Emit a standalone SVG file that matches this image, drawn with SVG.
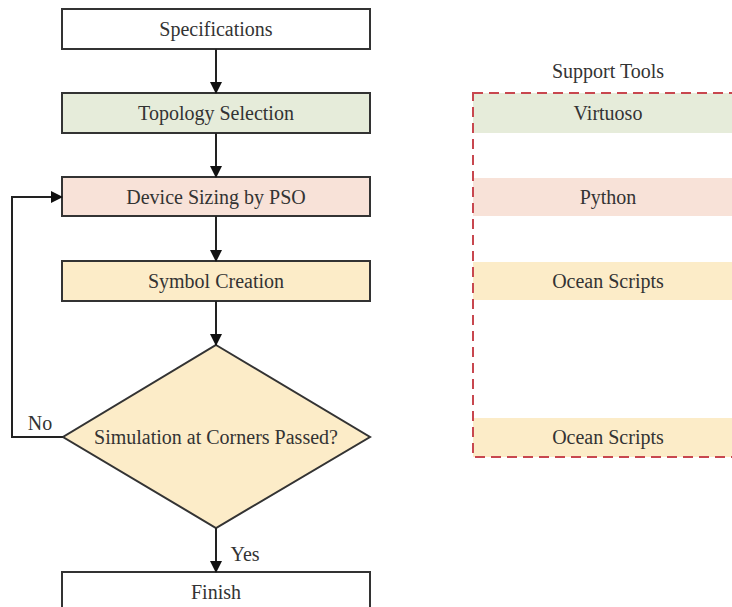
<svg xmlns="http://www.w3.org/2000/svg" width="732" height="607" viewBox="0 0 732 607">
<style>
text{font-family:"Liberation Serif","Times New Roman",serif;font-size:20px;fill:#333;text-anchor:middle;dominant-baseline:central}
.box{stroke:#333;stroke-width:2}
.conn{stroke:#222;stroke-width:2;fill:none}
</style>
<defs>
<marker id="ah" markerWidth="12" markerHeight="12" refX="11" refY="6" orient="auto" markerUnits="userSpaceOnUse">
<path d="M0,0 L12,6 L0,12 Z" fill="#111"/>
</marker>
</defs>
<rect width="732" height="607" fill="#fff"/>
<g id="spec"><rect class="box" x="62" y="9" width="308" height="40" fill="#fff"/><text x="216" y="29">Specifications</text></g>
<g id="topo"><rect class="box" x="62" y="93" width="308" height="40" fill="#e6ecda"/><text x="216" y="113">Topology Selection</text></g>
<g id="sizing"><rect class="box" x="62" y="177" width="308" height="39" fill="#f8e2d8"/><text x="216" y="197">Device Sizing by PSO</text></g>
<g id="symbol"><rect class="box" x="62" y="261" width="308" height="40" fill="#fcecc8"/><text x="216" y="281">Symbol Creation</text></g>
<g id="sim"><polygon class="box" points="216,345 370,437 216,528 63,437" fill="#fcecc8"/><text x="216" y="437">Simulation at Corners Passed?</text></g>
<g id="finish"><rect class="box" x="62" y="572" width="308" height="50" fill="#fff"/><text x="216" y="592">Finish</text></g>
<g id="connectors">
<line class="conn" x1="216" y1="49" x2="216" y2="93" marker-end="url(#ah)"/>
<line class="conn" x1="216" y1="133" x2="216" y2="177" marker-end="url(#ah)"/>
<line class="conn" x1="216" y1="216" x2="216" y2="261" marker-end="url(#ah)"/>
<line class="conn" x1="216" y1="301" x2="216" y2="345" marker-end="url(#ah)"/>
<line class="conn" x1="216" y1="528" x2="216" y2="572" marker-end="url(#ah)"/>
<polyline class="conn" points="63,437 12,437 12,197 62,197" marker-end="url(#ah)"/>
<text x="40" y="423">No</text>
<text x="245" y="554">Yes</text>
</g>
<g id="support">
<text x="608" y="71">Support Tools</text>
<rect x="473" y="93" width="272" height="40" fill="#e6ecda"/>
<text x="608" y="113">Virtuoso</text>
<rect x="473" y="178" width="272" height="38" fill="#f8e2d8"/>
<text x="608" y="197">Python</text>
<rect x="473" y="262" width="272" height="38" fill="#fcecc8"/>
<text x="608" y="281">Ocean Scripts</text>
<rect x="473" y="418" width="272" height="39" fill="#fcecc8"/>
<text x="608" y="437">Ocean Scripts</text>
<rect x="473" y="93" width="272" height="364" fill="none" stroke="#c8474f" stroke-width="2" stroke-dasharray="10 6"/>
</g>
</svg>
